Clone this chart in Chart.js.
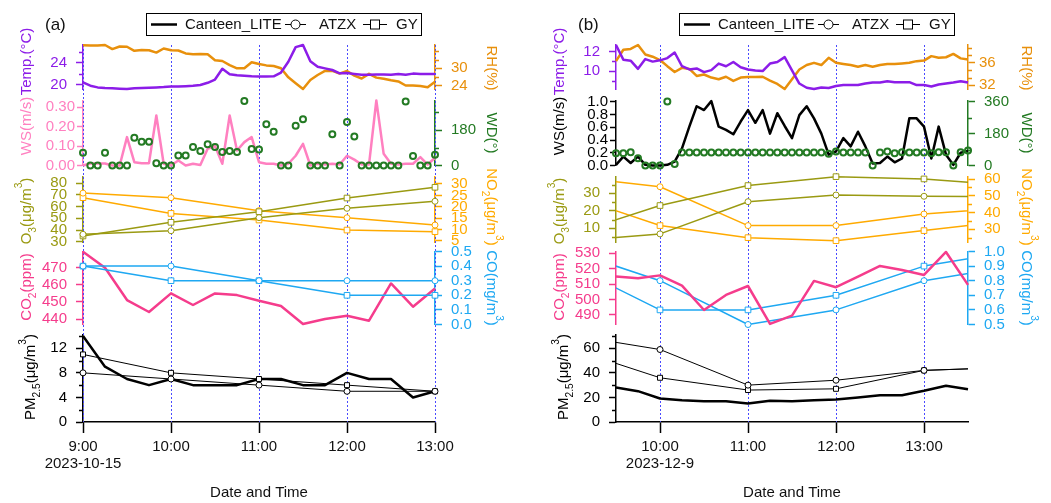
<!DOCTYPE html>
<html>
<head>
<meta charset="utf-8">
<title>Canteen LITE comparison</title>
<script src="https://cdn.jsdelivr.net/npm/chart.js@4.4.1/dist/chart.umd.min.js"></script>
<style>
  html, body { margin:0; padding:0; background:#ffffff; }
  #wrap { position:relative; width:1051px; height:503px; overflow:hidden; background:#fff; }
  #chartA { position:absolute; left:0; top:0; }
  #chartB { position:absolute; left:525px; top:0; }
</style>
</head>
<body>
<div id="wrap">
  <canvas id="chartA" width="525" height="503"></canvas>
  <canvas id="chartB" width="526" height="503"></canvas>
</div>
<script>
// ===================== DATA =====================
// ---- panel (a) 2023-10-15 ----
const timesA5 = ['9:00','9:05','9:10','9:15','9:20','9:25','9:30','9:35','9:40','9:45','9:50','9:55',
  '10:00','10:05','10:10','10:15','10:20','10:25','10:30','10:35','10:40','10:45','10:50','10:55',
  '11:00','11:05','11:10','11:15','11:20','11:25','11:30','11:35','11:40','11:45','11:50','11:55',
  '12:00','12:05','12:10','12:15','12:20','12:25','12:30','12:35','12:40','12:45','12:50','12:55','13:00'];
const tempA = [20.36,19.76,19.45,19.33,19.27,19.2,19.15,19.27,19.33,19.4,19.45,19.5,
  19.6,19.6,19.67,19.76,19.9,20.3,20.9,22.9,21.9,21.7,21.6,21.5,
  21.45,21.45,21.5,22.2,24.2,26.9,27.3,24.3,23.27,22.97,22.67,22.06,
  22.1,21.94,21.8,21.8,21.85,21.85,21.8,21.94,21.8,22.0,21.94,21.94,21.94];
const rhA = [37.9,37.8,37.8,38.0,36.6,37.5,37.4,36.0,36.3,36.2,35.4,36.8,
  36.2,36.1,35.1,34.8,34.9,34.8,32.8,32.5,31.1,30.0,30.0,32.1,
  31.5,31.0,30.8,30.0,26.9,24.9,22.9,26.0,27.7,29.1,29.1,28.2,
  29.1,27.5,26.5,28.1,26.8,26.4,25.9,25.5,24.1,24.1,23.9,23.5,25.4];
const wsA = [0.0,0.01,0.01,0.01,0.0,0.0,0.146,0.017,0.012,0.012,0.257,0.009,
  0.0,0.026,0.0,0.009,0.003,0.086,0.1,0.009,0.257,0.077,0.12,0.146,
  0.017,0.009,0.009,0.0,0.009,0.05,0.111,0.0,0.009,0.005,0.009,0.005,
  0.05,0.03,0.005,0.005,0.334,0.06,0.009,0.005,0.009,0.009,0.043,0.005,0.04];
const wdA = [65,0,0,65,0,0,0,141,120,120,12,0,
  0,51,51,94,74,108,94,69,74,69,327,84,
  81,209,171,0,0,202,235,0,0,0,158,0,
  221,147,0,0,0,0,0,0,324,48,0,0,55];
const timesA15 = ['9:00','9:15','9:30','9:45','10:00','10:15','10:30','10:45','11:00','11:15','11:30','11:45','12:00','12:15','12:30','12:45','13:00'];
const co2A = [479.4,470.0,451.1,444.1,455.0,448.2,455.0,454.0,450.7,447.6,437.1,440.0,441.9,439.0,460.8,447.2,457.9];
const pmCanteenA = [14,9,7,6,7,6,6,6,7,7,6,6,8,7,7,4,5];
const timesAH = ['9:00','10:00','11:00','12:00','13:00'];
const o3AtzxA = [36.3,39.4,50.6,58.6,64.6];
const o3GyA = [34.9,46.6,55.7,67.4,76.6];
const no2AtzxA = [26.0,24.0,18.3,15.2,12.0];
const no2GyA = [24.0,17.1,14.2,9.8,9.1];
const coAtzxA = [0.4,0.4,0.3,0.3,0.3];
const coGyA = [0.4,0.3,0.3,0.2,0.2];
const pmAtzxA = [8,7,6,5,5];
const pmGyA = [11,8,7,6,5];

// ---- panel (b) 2023-12-9 ----
const timesB5 = ['9:30','9:35','9:40','9:45','9:50','9:55',
  '10:00','10:05','10:10','10:15','10:20','10:25','10:30','10:35','10:40','10:45','10:50','10:55',
  '11:00','11:05','11:10','11:15','11:20','11:25','11:30','11:35','11:40','11:45','11:50','11:55',
  '12:00','12:05','12:10','12:15','12:20','12:25','12:30','12:35','12:40','12:45','12:50','12:55',
  '13:00','13:05','13:10','13:15','13:20','13:25','13:30'];
const tempB = [12.67,11.17,11.07,10.23,11.23,10.97,
  11.1,11.33,11.9,10.5,10.17,10.27,9.9,10.1,10.77,10.5,10.93,10.4,
  10.17,10.07,10.0,10.77,10.93,11.43,10.07,8.73,8.3,8.17,8.33,8.27,
  8.47,8.57,8.57,8.57,8.73,8.83,8.83,8.97,8.87,8.87,8.87,8.57,
  8.57,8.43,8.63,8.73,8.83,8.97,8.83];
const rhB = [36.3,38.35,38.5,39.2,37.5,37.1,
  36.5,35.4,34.35,35.1,34.9,33.65,33.9,33.35,33.06,33.5,32.76,33.35,
  33.47,33.47,33.5,32.8,32.2,31.3,33.06,34.8,35.6,36.0,35.6,36.9,
  36.0,35.8,35.6,35.3,35.6,35.3,35.6,35.8,35.8,35.9,36.0,36.3,
  36.4,37.2,36.9,37.0,37.6,36.8,36.6];
const wsB = [0.01,0.14,0.04,0.14,0.01,0.0,
  0.0,0.01,0.06,0.27,0.61,0.93,0.87,1.01,0.61,0.56,0.49,0.69,
  0.87,0.67,0.87,0.5,0.82,0.62,0.43,0.79,0.93,0.74,0.5,0.17,
  0.22,0.43,0.3,0.53,0.3,0.03,0.04,0.14,0.05,0.11,0.74,0.74,
  0.61,0.11,0.61,0.17,0.01,0.2,0.23];
const wdB = [69,69,75,41,0,0,
  0,360,9,73,73,73,73,73,73,73,73,73,
  73,73,73,73,73,73,73,73,73,73,73,66,
  79,73,73,73,73,0,73,79,69,75,73,73,
  73,69,75,75,0,75,84];
const timesB15 = ['9:30','9:45','10:00','10:15','10:30','10:45','11:00','11:15','11:30','11:45','12:00','12:15','12:30','12:45','13:00','13:15','13:30'];
const co2B = [514.9,513.8,515.7,509.0,493.2,503.0,508.8,484.2,489.6,512.1,508.0,514.9,521.8,519.2,516.0,530.9,509.5];
const pmCanteenB = [28.1,25.1,19.1,17.7,16.9,16.9,15.0,17.2,16.9,17.7,18.3,19.9,21.8,21.8,25.4,29.5,26.7];
const timesBH = ['9:00','10:00','11:00','12:00','13:00','14:00'];
const o3AtzxB = [2.6,6.8,25.2,29.0,28.3,27.9];
const o3GyB = [6.7,23.0,34.4,39.5,38.2,34.4];
const no2AtzxB = [61.4,55.4,32.2,32.2,39.1,43.1];
const no2GyB = [50.0,32.2,25.0,23.2,29.2,35.2];
const coAtzxB = [1.0,0.8,0.5,0.6,0.8,0.9];
const coGyB = [0.9,0.6,0.6,0.7,0.9,1.0];
const pmAtzxB = [70.6,59,30,34,42,44.5];
const pmGyB = [59.4,36,26,27,42,44.5];

// ---- tick labels ----
const xTicksA = ['9:00','10:00','11:00','12:00','13:00'];
const dateA = '2023-10-15';
const xTicksB = ['10:00','11:00','12:00','13:00'];
const dateB = '2023-12-9';
const tkTempA = [20,24], tkTempAm = [22,26];
const tkRhA = [24,30], tkRhAm = [27,33,36];
const tkWsA = [0,0.1,0.2,0.3];
const tkWdA = [0,180], tkWdAm = [90,270];
const tkO3A = [30,40,50,60,70,80];
const tkNo2A = [5,10,15,20,25,30];
const tkCo2A = [440,450,460,470];
const tkCoA = [0,0.1,0.2,0.3,0.4,0.5];
const tkPmA = [0,4,8,12], tkPmAm = [2,6,10,14];
const tkTempB = [10,12], tkTempBm = [9,11];
const tkRhB = [32,36], tkRhBm = [33.333,34.667,37.333,38.667];
const tkWsB = [0,0.2,0.4,0.6,0.8,1.0];
const tkWdB = [0,180,360], tkWdBm = [90,270];
const tkO3B = [10,20,30], tkO3Bm = [5,15,25,35];
const tkNo2B = [30,40,50,60], tkNo2Bm = [25,35,45,55];
const tkCo2B = [490,500,510,520,530];
const tkCoB = [0.5,0.6,0.7,0.8,0.9,1.0];
const tkPmB = [0,20,40,60], tkPmBm = [10,30,50,70];

// ===================== STYLE / LAYOUT =====================
const FONT = '"Liberation Sans", Arial, Helvetica, sans-serif';
const COL = { purple:'#8c1ce8', rh:'#e8900c', pink:'#ff80c0', green:'#237a23', olive:'#9a9a12',
  no2:'#ffaa00', co2:'#f53c8c', co:'#1ea8f2', black:'#000000', grid:'#4a4aff' };
const SUBS = { s1:[45,89], s2:[100.5,165.5], s3:[177,242], s4:[251.5,324.5], s5:[335,422] };
const MINOR_TL = 4;

function mins(t){ const p = t.split(':'); return (parseInt(p[0],10)-9)*60 + parseInt(p[1],10); }
function pts(times, vals){ return times.map((t,i)=>({x:mins(t), y:vals[i]})); }

function lineDS(axis, times, vals, color, width, extra){
  return Object.assign({ type:'line', xAxisID:'x', yAxisID:axis, data:pts(times, vals),
    borderColor:color, backgroundColor:color, borderWidth:width, pointRadius:0, tension:0,
    fill:false, clip:false, borderJoinStyle:'round' }, extra || {});
}
function markDS(axis, times, vals, color, width, style, r, clip){
  return lineDS(axis, times, vals, color, width, { pointStyle:style, pointRadius:r, pointBorderWidth:1,
    pointBorderColor:color, pointBackgroundColor:'#ffffff', clip:clip });
}
function windDS(axis, times, vals, color){
  return lineDS(axis, times, vals, color, 0, { showLine:false, pointStyle:'circle', pointRadius:3,
    pointBorderWidth:2, pointBorderColor:color, pointBackgroundColor:'rgba(0,0,0,0)' });
}

function yScale(ax){
  const tl = ax.tl || 7;
  const pad = (ax.off || 16) - tl;
  return {
    type:'linear', position:ax.side, min:ax.min, max:ax.max, display:true, bounds:'data',
    afterBuildTicks: s => { s.ticks = ax.major.map(v => ({value:v})); },
    afterFit: s => { s.width = 0; s.paddingTop = 0; s.paddingBottom = 0; s.paddingLeft = 0; s.paddingRight = 0; },
    ticks:{ autoSkip:false, color:ax.color, font:{family:FONT, size:15}, padding:pad,
      callback: v => Number(v).toFixed(ax.dec || 0) },
    grid:{ display:true, drawOnChartArea:false, drawTicks:true, tickLength:tl, tickColor:ax.color, tickWidth:1.5 },
    border:{ display:true, color:ax.color, width:1.5 }
  };
}
function xScale(P){
  return {
    type:'linear', position:'bottom', min:P.xmin, max:P.xmax, bounds:'data',
    afterBuildTicks: s => { s.ticks = P.xlabels.map(l => ({value:mins(l)})); },
    afterFit: s => { s.height = 0; s.paddingTop = 0; s.paddingBottom = 0; s.paddingLeft = 0; s.paddingRight = 0; },
    ticks:{ autoSkip:false, maxRotation:0, minRotation:0, color:'#111111',
      font:{family:FONT, size:15, lineHeight:1.1}, padding:6,
      callback:(v, i) => i === 0 ? [P.xlabels[i], P.date] : P.xlabels[i] },
    grid:{ display:true, drawOnChartArea:false, tickLength:11, tickColor:'#000', tickWidth:1.5 },
    border:{ display:true, color:'#000', width:1.5 }
  };
}

function drawRich(ctx, cx, cy, rotDeg, segs, size, color){
  ctx.save();
  ctx.translate(cx, cy);
  ctx.rotate(rotDeg * Math.PI / 180);
  ctx.fillStyle = color;
  ctx.textBaseline = 'alphabetic';
  ctx.textAlign = 'left';
  const parts = segs.map(sg => {
    const fs = sg[1] ? size * 0.68 : size;
    ctx.font = fs + 'px ' + FONT;
    return { t:sg[0], k:sg[1], fs:fs, w:ctx.measureText(sg[0]).width };
  });
  const total = parts.reduce((a, p) => a + p.w, 0);
  let x = -total / 2;
  const base = size * 0.36;
  for (const p of parts){
    ctx.font = p.fs + 'px ' + FONT;
    const dy = p.k === 'sub' ? size * 0.28 : (p.k === 'sup' ? -size * 0.62 : 0);
    ctx.fillText(p.t, x, base + dy);
    x += p.w;
  }
  ctx.restore();
}

function posPlugin(axes){
  return { id:'pos', afterLayout(chart){
    const ca = chart.chartArea;
    const xs = chart.scales.x;
    xs.left = ca.left; xs.right = ca.right; xs.width = ca.right - ca.left;
    xs.top = ca.bottom; xs.bottom = ca.bottom + 70; xs.height = 70;
    xs._gridLineItems = null; xs._labelItems = null; xs.configure();
    for (const ax of axes){
      const s = chart.scales[ax.id];
      const r = SUBS[ax.sub];
      s.top = r[0]; s.bottom = r[1]; s.height = r[1] - r[0];
      if (ax.side === 'left'){ s.left = ca.left - 70; s.right = ca.left; }
      else { s.left = ca.right; s.right = ca.right + 70; }
      s.width = 70;
      s._gridLineItems = null; s._labelItems = null;
      s.configure();
    }
  }};
}

// hour guide lines (dotted blue), positioned through the x scale
function hourLinesPlugin(P){
  return { id:'hours', beforeDatasetsDraw(chart){
    const ctx = chart.ctx, ca = chart.chartArea, xs = chart.scales.x;
    ctx.save();
    ctx.strokeStyle = COL.grid; ctx.lineWidth = 1; ctx.setLineDash([2, 2]);
    for (const l of P.xlabels){
      const x = Math.round(xs.getPixelForValue(mins(l))) + 0.5;
      ctx.beginPath(); ctx.moveTo(x, ca.top); ctx.lineTo(x, ca.bottom); ctx.stroke();
    }
    ctx.restore();
  }};
}

function decoPlugin(P){
  return { id:'deco', afterDraw(chart){
    const ctx = chart.ctx, ca = chart.chartArea;
    // minor ticks
    for (const ax of P.axes){
      if (!ax.minor) continue;
      const s = chart.scales[ax.id];
      ctx.save(); ctx.strokeStyle = ax.color; ctx.lineWidth = 1.5; ctx.beginPath();
      for (const v of ax.minor){
        const y = Math.round(s.getPixelForValue(v)) + 0.5;
        if (ax.side === 'left'){ ctx.moveTo(ca.left - MINOR_TL, y); ctx.lineTo(ca.left, y); }
        else { ctx.moveTo(ca.right, y); ctx.lineTo(ca.right + MINOR_TL, y); }
      }
      ctx.stroke(); ctx.restore();
    }
    // axis titles
    for (const t of P.titles) drawRich(ctx, t.x, t.y, t.rot, t.segs, 15, t.color);
    // panel tag
    ctx.save();
    ctx.fillStyle = '#111'; ctx.font = '17px ' + FONT; ctx.textBaseline = 'middle'; ctx.textAlign = 'left';
    ctx.fillText(P.tag, P.tagX, 25);
    // x title
    ctx.font = '15px ' + FONT; ctx.textAlign = 'center';
    ctx.fillText('Date and Time', (ca.left + ca.right) / 2, 493);
    // legend
    const bx = P.legendX, cy = 24.5;
    ctx.strokeStyle = '#000'; ctx.lineWidth = 1;
    ctx.strokeRect(bx + 0.5, 13.5, 275, 22);
    ctx.lineWidth = 2.5; ctx.beginPath(); ctx.moveTo(bx + 5, cy); ctx.lineTo(bx + 31, cy); ctx.stroke();
    ctx.lineWidth = 1;
    ctx.beginPath(); ctx.moveTo(bx + 139, cy); ctx.lineTo(bx + 160, cy); ctx.stroke();
    ctx.beginPath(); ctx.arc(bx + 149.5, cy, 4.5, 0, Math.PI * 2); ctx.fillStyle = '#fff'; ctx.fill(); ctx.stroke();
    ctx.beginPath(); ctx.moveTo(bx + 217, cy); ctx.lineTo(bx + 241, cy); ctx.stroke();
    ctx.fillStyle = '#fff'; ctx.fillRect(bx + 224.5, cy - 4.5, 9, 9); ctx.strokeRect(bx + 224.5, cy - 4.5, 9, 9);
    ctx.fillStyle = '#111'; ctx.font = '15px ' + FONT; ctx.textAlign = 'left'; ctx.textBaseline = 'middle';
    ctx.fillText('Canteen_LITE', bx + 39, cy);
    ctx.fillText('ATZX', bx + 173, cy);
    ctx.fillText('GY', bx + 250, cy);
    ctx.restore();
  }};
}

const SEG = {
  temp: [['Temp.(°C)']],
  ws: [['WS(m/s)']],
  o3: [['O'],['3','sub'],['(μg/m'],['3','sup'],[')']],
  co2: [['CO'],['2','sub'],['(ppm)']],
  pm: [['PM'],['2.5','sub'],['(μg/m'],['3','sup'],[')']],
  rh: [['RH(%)']],
  wd: [['WD(°)']],
  no2: [['NO'],['2','sub'],['(μg/m'],['3','sup'],[')']],
  co: [['CO(mg/m'],['3','sup'],[')']]
};

function titlesFor(axL, axR, pmX, colWs){
  return [
    {segs:SEG.temp, x:axL, y:61.5, rot:-90, color:COL.purple},
    {segs:SEG.ws, x:axL, y:126, rot:-90, color:colWs},
    {segs:SEG.o3, x:axL, y:211, rot:-90, color:COL.olive},
    {segs:SEG.co2, x:axL, y:287, rot:-90, color:COL.co2},
    {segs:SEG.pm, x:pmX, y:377, rot:-90, color:COL.black},
    {segs:SEG.rh, x:axR, y:68, rot:90, color:COL.rh},
    {segs:SEG.wd, x:axR, y:133, rot:90, color:COL.green},
    {segs:SEG.no2, x:axR, y:207, rot:90, color:COL.no2},
    {segs:SEG.co, x:axR, y:288, rot:90, color:COL.co}
  ];
}

function makeChart(id, P){
  const scales = { x:xScale(P) };
  for (const ax of P.axes) scales[ax.id] = yScale(ax);
  return new Chart(document.getElementById(id), {
    type:'line',
    data:{ datasets:P.datasets },
    options:{
      responsive:false, animation:false, events:[], devicePixelRatio:1,
      layout:{ padding:P.padding },
      plugins:{ legend:{display:false}, tooltip:{enabled:false}, title:{display:false} },
      scales:scales
    },
    plugins:[ posPlugin(P.axes), hourLinesPlugin(P), decoPlugin(P) ]
  });
}

// ===================== PANEL (a) =====================
const axesA = [
  {id:'yT', sub:'s1', side:'left', min:19.15, max:27.3, major:tkTempA, minor:tkTempAm, color:COL.purple},
  {id:'yRH', sub:'s1', side:'right', min:22.9, max:38.0, major:tkRhA, minor:tkRhAm, color:COL.rh},
  {id:'yWS', sub:'s2', side:'left', min:0, max:0.334, major:tkWsA, color:COL.pink, dec:2, tl:6, off:8},
  {id:'yWD', sub:'s2', side:'right', min:0, max:329.6, major:tkWdA, minor:tkWdAm, color:COL.green},
  {id:'yO3', sub:'s3', side:'left', min:29.74, max:85.4, major:tkO3A, color:COL.olive},
  {id:'yNO2', sub:'s3', side:'right', min:4.56, max:33.07, major:tkNo2A, color:COL.no2},
  {id:'yCO2', sub:'s4', side:'left', min:436.8, max:479.5, major:tkCo2A, color:COL.co2},
  {id:'yCO', sub:'s4', side:'right', min:0, max:0.5, major:tkCoA, color:COL.co, dec:1},
  {id:'yPM', sub:'s5', side:'left', min:0, max:14.16, major:tkPmA, minor:tkPmAm, color:COL.black}
];
const dsA = [
  windDS('yWD', timesA5, wdA, COL.green),
  lineDS('yWS', timesA5, wsA, COL.pink, 2.5),
  lineDS('yT', timesA5, tempA, COL.purple, 2.5),
  lineDS('yRH', timesA5, rhA, COL.rh, 2.5),
  markDS('yO3', timesAH, o3AtzxA, COL.olive, 1.5, 'circle', 3, false),
  markDS('yO3', timesAH, o3GyA, COL.olive, 1.5, 'rect', 4, false),
  markDS('yNO2', timesAH, no2AtzxA, COL.no2, 1.5, 'circle', 3, false),
  markDS('yNO2', timesAH, no2GyA, COL.no2, 1.5, 'rect', 4, false),
  markDS('yCO', timesAH, coAtzxA, COL.co, 1.5, 'circle', 3, false),
  markDS('yCO', timesAH, coGyA, COL.co, 1.5, 'rect', 4, false),
  lineDS('yCO2', timesA15, co2A, COL.co2, 2.5),
  markDS('yPM', timesAH, pmAtzxA, COL.black, 1, 'circle', 3, false),
  markDS('yPM', timesAH, pmGyA, COL.black, 1, 'rect', 3.5, false),
  lineDS('yPM', timesA15, pmCanteenA, COL.black, 2.5)
];
makeChart('chartA', {
  axes:axesA, datasets:dsA, xmin:0, xmax:240, xlabels:xTicksA, date:dateA,
  padding:{left:83, right:90, top:45, bottom:81},
  titles:titlesFor(26, 492, 30, COL.pink), tag:'(a)', tagX:45, legendX:146
});

// ===================== PANEL (b) (canvas starts at page x = 525) =====================
const clipB = {left:0, right:0, top:20, bottom:20};
const axesB = [
  {id:'yT', sub:'s1', side:'left', min:8.17, max:12.67, major:tkTempB, minor:tkTempBm, color:COL.purple},
  {id:'yRH', sub:'s1', side:'right', min:31.3, max:39.2, major:tkRhB, minor:tkRhBm, color:COL.rh, off:11},
  {id:'yWS', sub:'s2', side:'left', min:0, max:1.02, major:tkWsB, color:COL.black, dec:1, tl:6, off:8},
  {id:'yWD', sub:'s2', side:'right', min:0, max:366, major:tkWdB, minor:tkWdBm, color:COL.green},
  {id:'yO3', sub:'s3', side:'left', min:2.17, max:39.3, major:tkO3B, minor:tkO3Bm, color:COL.olive},
  {id:'yNO2', sub:'s3', side:'right', min:22.4, max:61.2, major:tkNo2B, minor:tkNo2Bm, color:COL.no2},
  {id:'yCO2', sub:'s4', side:'left', min:483.8, max:531.2, major:tkCo2B, color:COL.co2},
  {id:'yCO', sub:'s4', side:'right', min:0.5, max:1.0, major:tkCoB, color:COL.co, dec:1},
  {id:'yPM', sub:'s5', side:'left', min:0, max:70.8, major:tkPmB, minor:tkPmBm, color:COL.black}
];
const dsB = [
  windDS('yWD', timesB5, wdB, COL.green),
  lineDS('yWS', timesB5, wsB, COL.black, 2.5),
  lineDS('yT', timesB5, tempB, COL.purple, 2.5),
  lineDS('yRH', timesB5, rhB, COL.rh, 2.5),
  markDS('yO3', timesBH, o3AtzxB, COL.olive, 1.5, 'circle', 3, clipB),
  markDS('yO3', timesBH, o3GyB, COL.olive, 1.5, 'rect', 4, clipB),
  markDS('yNO2', timesBH, no2AtzxB, COL.no2, 1.5, 'circle', 3, clipB),
  markDS('yNO2', timesBH, no2GyB, COL.no2, 1.5, 'rect', 4, clipB),
  lineDS('yCO2', timesB15, co2B, COL.co2, 2.5),
  markDS('yCO', timesBH, coAtzxB, COL.co, 1.5, 'circle', 3, clipB),
  markDS('yCO', timesBH, coGyB, COL.co, 1.5, 'rect', 4, clipB),
  markDS('yPM', timesBH, pmAtzxB, COL.black, 1, 'circle', 3, clipB),
  markDS('yPM', timesBH, pmGyB, COL.black, 1, 'rect', 3.5, clipB),
  lineDS('yPM', timesB15, pmCanteenB, COL.black, 2.5)
];
makeChart('chartB', {
  axes:axesB, datasets:dsB, xmin:30, xmax:270, xlabels:xTicksB, date:dateB,
  padding:{left:91, right:83, top:45, bottom:81},
  titles:titlesFor(34, 502, 38, COL.black), tag:'(b)', tagX:53, legendX:154
});
</script>
</body>
</html>
